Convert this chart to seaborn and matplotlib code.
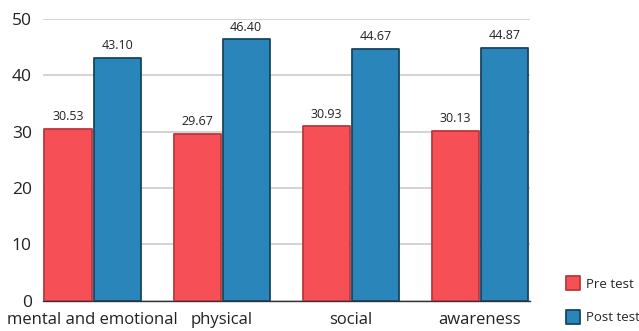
import pandas as pd
import seaborn as sns
import matplotlib.pyplot as plt

# 数据
categories = ['mental and emotional', 'physical', 'social', 'awareness']
pre_test = [30.53, 29.67, 30.93, 30.13]
post_test = [43.10, 46.40, 44.67, 44.87]
series_names = ['Pre test', 'Post test']

df = pd.DataFrame({
    'category': categories * 2,
    'score': pre_test + post_test,
    'test': [series_names[0]] * 4 + [series_names[1]] * 4,
})

sns.set_style('white')
plt.rcParams['font.family'] = ['Open Sans', 'DejaVu Sans']

fig = plt.figure(figsize=(6.39, 3.31), dpi=100)
ax = fig.add_axes([0.067, 0.091, 0.762, 0.852])

fill_colors = {'Pre test': '#F64F55', 'Post test': '#2A86BA'}
edge_colors = ['#B8383D', '#17455F']

sns.barplot(data=df, x='category', y='score', hue='test', palette=fill_colors,
            saturation=1, width=0.76, gap=0.04, ax=ax, legend=True, zorder=3)

# 边框颜色 + 圆角
for cont, ec in zip(ax.containers, edge_colors):
    for bar in cont:
        bar.set_edgecolor(ec)
        bar.set_linewidth(1.3)
        bar.set_joinstyle('round')
    ax.bar_label(cont, fmt='%.2f', padding=4, fontsize=9, color='#222222')

ax.set_ylim(0, 50)
ax.set_xlim(-0.385, 3.385)
ax.set_yticks([0, 10, 20, 30, 40, 50])
ax.yaxis.grid(True, color='#cccccc', linewidth=1.2, zorder=0)
ax.set_axisbelow(True)
for s in ['top', 'right', 'left']:
    ax.spines[s].set_visible(False)
ax.spines['bottom'].set_color('#333333')
ax.spines['bottom'].set_linewidth(1.0)
ax.tick_params(axis='both', length=0, colors='#222222')
ax.tick_params(axis='y', pad=8, labelsize=12.5)
ax.tick_params(axis='x', pad=8, labelsize=12)
ax.set_xlabel('')
ax.set_ylabel('')

leg = ax.legend(loc='lower left', bbox_to_anchor=(1.05, -0.125), frameon=False,
                fontsize=9.5, handlelength=1.05, handleheight=1.3, labelspacing=1.45,
                handletextpad=0.45)
for h, ec in zip(leg.legend_handles, edge_colors):
    h.set_edgecolor(ec)
    h.set_linewidth(1.3)
    h.set_joinstyle('round')

fig.savefig('out.png', dpi=100)
